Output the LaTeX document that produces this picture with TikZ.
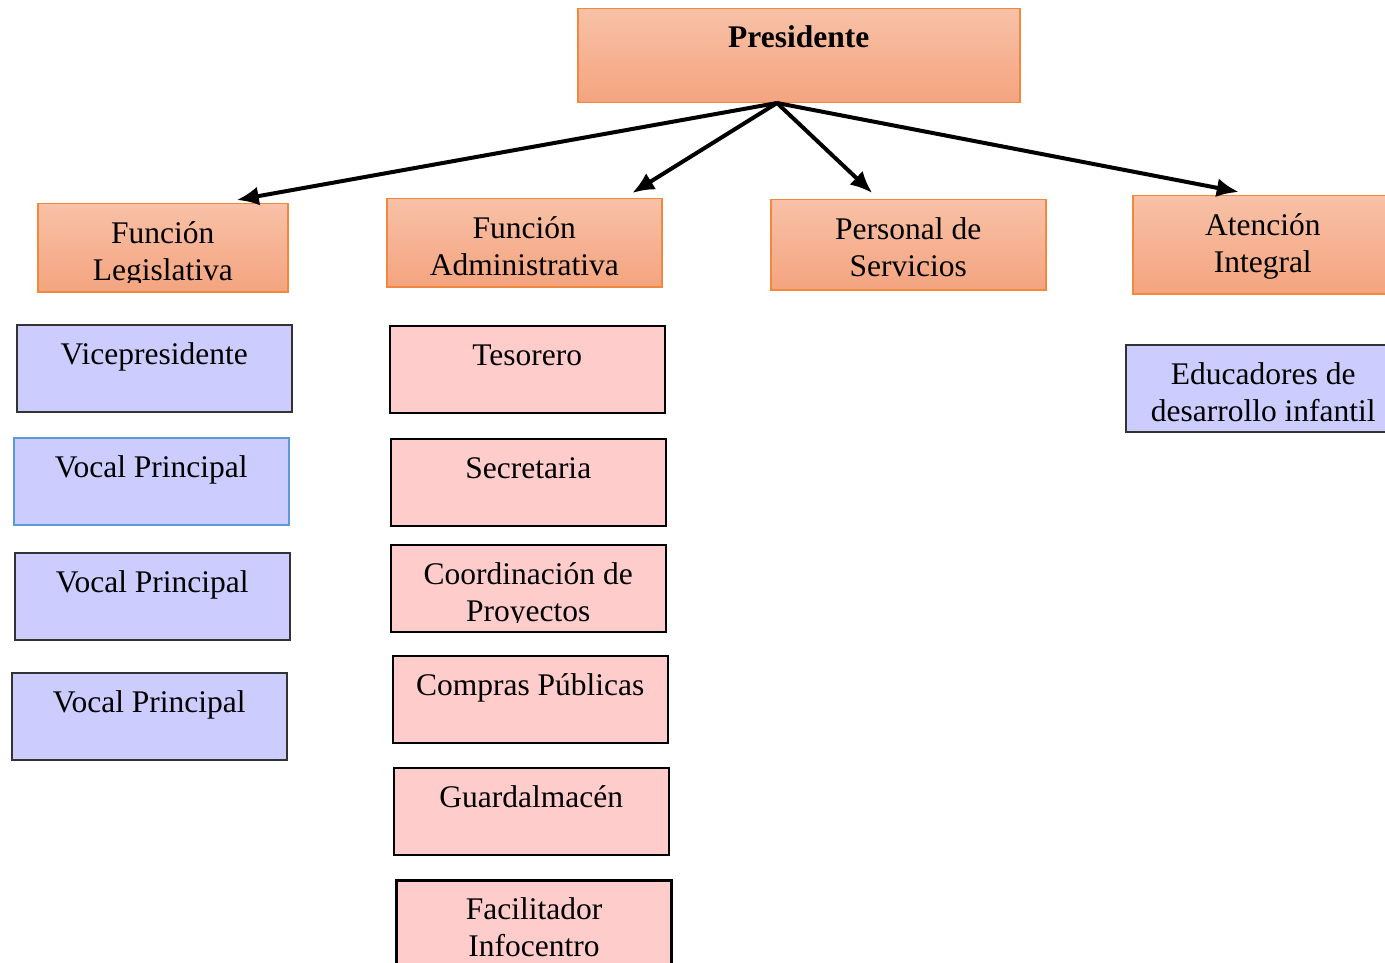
\documentclass[tikz,border=0pt]{standalone}
\usepackage{fontspec}
\setmainfont{Liberation Serif}
\usetikzlibrary{arrows.meta,calc}
\definecolor{orTop}{HTML}{F8C1A7}
\definecolor{orBot}{HTML}{F4A47F}
\definecolor{orLine}{HTML}{F0883E}
\definecolor{lav}{HTML}{CCCCFF}
\definecolor{pinkf}{HTML}{FFCCCC}
\definecolor{blueLine}{HTML}{5B9BD5}
\definecolor{darkLine}{HTML}{333333}
\tikzset{
  obox/.style={draw=orLine, line width=1.5pt, top color=orTop, bottom color=orBot, anchor=north west, inner sep=0pt},
  lbox/.style={draw=darkLine, line width=1.5pt, fill=lav, anchor=north west, inner sep=0pt},
  pbox/.style={draw=black, line width=1.5pt, fill=pinkf, anchor=north west, inner sep=0pt},
  lab/.style={anchor=base, inner sep=0pt, font=\fontsize{31.5pt}{37pt}\selectfont},
  arr/.style={line width=4pt, -{Latex[length=22pt,width=19pt]}},
}
% \mkbox{style}{name}{x}{y}{w}{h}{line1}{line2}
\newcommand{\mkbox}[8]{%
  \node[#1, minimum width=#5pt, minimum height=#6pt] (#2) at (#3,#4) {};
  \begin{scope}
    \clip (#3,#4) rectangle ++(#5,#6-9);
    \node[lab] (#2-a) at ($(#2.north)+(0,-40pt)$) {#7};
    \node[lab] (#2-b) at ($(#2.north)+(0,-77pt)$) {#8};
  \end{scope}}
\begin{document}
\begin{tikzpicture}[x=1pt,y=-1pt]
\useasboundingbox (0,0) rectangle (1385,963);
% top
\node[obox, minimum width=442pt, minimum height=94pt] (pres) at (577,8) {};
\node[lab, font=\fontsize{31.5pt}{37pt}\selectfont\bfseries] (pres-a) at ($(pres.north)+(0,-40pt)$) {Presidente};
% second level
\mkbox{obox}{leg}{37}{203}{250}{88}{Función}{Legislativa}
\mkbox{obox}{adm}{386}{198}{275}{88}{Función}{Administrativa}
\mkbox{obox}{ser}{770}{199}{275}{90}{Personal de}{Servicios}
\mkbox{obox}{ate}{1132}{195}{260}{98}{Atención}{Integral}
% left column
\mkbox{lbox}{vice}{16}{324}{275}{87}{Vicepresidente}{}
\mkbox{lbox, draw=blueLine}{voc1}{13}{437}{275}{87}{Vocal Principal}{}
\mkbox{lbox}{voc2}{14}{552}{275}{87}{Vocal Principal}{}
\mkbox{lbox}{voc3}{11}{672}{275}{87}{Vocal Principal}{}
% middle column
\mkbox{pbox}{tes}{389}{325}{275}{87}{Tesorero}{}
\mkbox{pbox}{sec}{390}{438}{275}{87}{Secretaria}{}
\mkbox{pbox}{coo}{390}{544}{275}{87}{Coordinación de}{Proyectos}
\mkbox{pbox}{com}{392}{655}{275}{87}{Compras Públicas}{}
\mkbox{pbox}{gua}{393}{767}{275}{87}{Guardalmacén}{}
\mkbox{pbox, line width=3pt}{fac}{395}{879}{275}{100}{Facilitador}{Infocentro}
% right
\mkbox{lbox}{edu}{1125}{344}{275}{87}{Educadores de}{desarrollo infantil}
% arrows
\coordinate (o) at (777,103);
\draw[arr] (o) -- ([xshift=74pt,yshift=3pt]leg.north);
\draw[arr] (o) -- ([xshift=108pt,yshift=5pt]adm.north);
\draw[arr] (o) -- ([xshift=-36pt,yshift=6pt]ser.north);
\draw[arr] (o) -- ([xshift=-24pt,yshift=3pt]ate.north);
\end{tikzpicture}
\end{document}
